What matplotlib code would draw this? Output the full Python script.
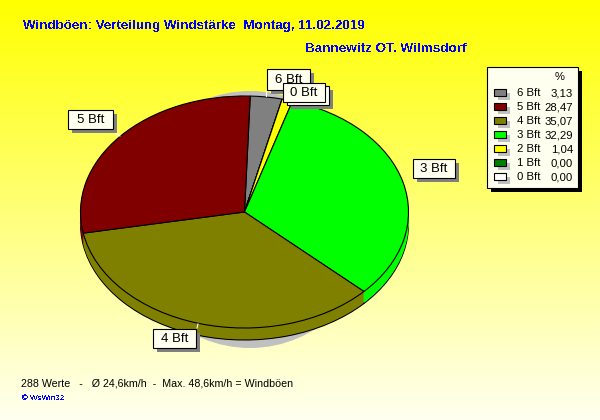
#!/usr/bin/env python
import numpy as np
import matplotlib
matplotlib.use('Agg')
import matplotlib.pyplot as plt
from matplotlib.patches import Rectangle, Ellipse
from matplotlib.transforms import Affine2D

plt.rcParams['font.family'] = ['Liberation Sans', 'DejaVu Sans']
plt.rcParams['text.antialiased'] = False

# data, clockwise from the top of the pie
pie_names = ['6 Bft', '0 Bft', '1 Bft', '2 Bft', '3 Bft', '4 Bft', '5 Bft']
pie_values = [3.13, 0.00, 0.00, 1.04, 32.29, 35.07, 28.47]
pie_colors = ['#808080', '#ffffff', '#008000', '#ffff00', '#00ff00', '#808000', '#800000']

legend_names = ['6 Bft', '5 Bft', '4 Bft', '3 Bft', '2 Bft', '1 Bft', '0 Bft']
legend_values = ['3,13', '28,47', '35,07', '32,29', '1,04', '0,00', '0,00']
legend_colors = ['#808080', '#800000', '#808000', '#00ff00', '#ffff00', '#008000', '#ffffff']

title = 'Windböen: Verteilung Windstärke  Montag, 11.02.2019'
station = 'Bannewitz OT. Wilmsdorf'
footer = '288 Werte   -   Ø 24,6km/h  -  Max. 48,6km/h = Windböen'

fig = plt.figure(figsize=(6, 4.2), dpi=100)
ax = fig.add_axes([0, 0, 1, 1])


def draw_pie(cx, cy, edge):
    wedges, _ = ax.pie(pie_values, colors=pie_colors, startangle=88, counterclock=False,
                       wedgeprops={'edgecolor': 'black' if edge else 'none', 'linewidth': 0.8})
    tr = Affine2D().scale(164, -116).translate(cx, cy) + ax.transData
    for w in wedges:
        w.set_transform(tr)
        w.set_zorder(3)


def label_box(x0, y0, x1, y1, txt):
    ax.add_patch(Rectangle((x0 + 4, y0 + 4), x1 - x0, y1 - y0, fc='#808080', ec='none', zorder=5))
    ax.add_patch(Rectangle((x0, y0), x1 - x0, y1 - y0, fc='#fffff0', ec='black', lw=0.8, zorder=6))
    ax.text((x0 + x1) / 2, (y0 + y1) / 2 + 0.5, txt, fontsize=9.5, ha='center', va='center',
            zorder=7, antialiased=True)


# shadow, then the side wall, then the top face
ax.add_patch(Ellipse((250, 219.5), 250, 257, fc='#c0c0c0', ec='none', zorder=1))
for d in range(12, 0, -1):
    draw_pie(244.5, 212 + d, d == 12)
draw_pie(244.5, 212, True)

ax.set_aspect('auto')
ax.axis('off')

# background gradient
grad = np.linspace(0, 1, 256).reshape(-1, 1)
cmap = matplotlib.colors.LinearSegmentedColormap.from_list('bg', ['#ffff00', '#fffff0'])
ax.imshow(grad, cmap=cmap, extent=(0, 600, 420, 0), aspect='auto', zorder=0)
ax.set_xlim(0, 600)
ax.set_ylim(420, 0)

# titles
ax.text(23, 26, title, color='#0000ff', fontsize=9.6, fontweight='bold', va='center')
ax.text(305, 49, station, color='#0000ff', fontsize=9.7, fontweight='bold', va='center')

# leaders
for xs, ys in [((115, 120), (133, 136)), ((197, 198), (328, 324)), ((266, 266), (91, 96))]:
    ax.plot(xs, ys, color='white', lw=0.8, zorder=4)

# callouts
label_box(267, 69, 310, 90, '6 Bft')
label_box(287, 86, 329, 105, '')
label_box(283, 83, 325, 102, '0 Bft')
label_box(68, 110, 113, 129, '5 Bft')
label_box(413, 159, 455, 178, '3 Bft')
label_box(153, 329, 196, 348, '4 Bft')

# legend
ax.add_patch(Rectangle((491, 71), 91, 121, fc='black', ec='none', zorder=5))
ax.add_patch(Rectangle((487, 67), 91, 121, fc='#fffff0', ec='black', lw=0.8, zorder=6))
ax.text(560, 77, '%', fontsize=8, ha='center', va='center', zorder=7, antialiased=True)
for i, (n, v, c) in enumerate(zip(legend_names, legend_values, legend_colors)):
    y = 93 + i * 14
    ax.add_patch(Rectangle((498, y), 12, 7, fc='#c0c0c0', ec='none', zorder=6))
    ax.add_patch(Rectangle((494, y - 4), 12, 7, fc=c, ec='black', lw=0.8, zorder=7))
    ax.text(517, y, n, fontsize=8.2, va='center', zorder=7, antialiased=True)
    ax.text(573, y, v, fontsize=8.2, ha='right', va='center', zorder=7, antialiased=True)

# footer
ax.text(21, 383, footer, fontsize=7.7, va='center', antialiased=True)
ax.text(22, 399, '© WsWin32', fontsize=5.8, color='#0000ff', va='center')

fig.savefig('out.png', dpi=100)
